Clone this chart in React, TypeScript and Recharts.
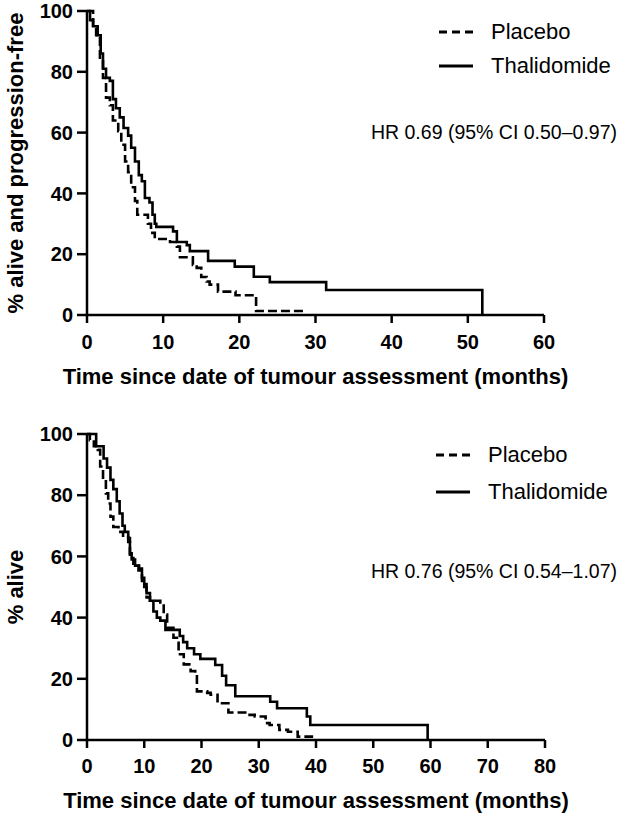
import { LineChart, Line, XAxis, YAxis, Legend } from 'recharts'

const FONT = '"Liberation Sans", Arial, Helvetica, sans-serif'

const pfsPlacebo = [
  [0, 100], [0.8, 94.5], [1.2, 92], [1.7, 84], [2.1, 78], [2.5, 71.5], [3.0, 69], [3.4, 64],
  [4.1, 60.5], [4.5, 56], [5.0, 50.5], [5.4, 47], [5.8, 42], [6.3, 37.5], [6.6, 33], [8.0, 30],
  [8.4, 27], [8.9, 25], [10.9, 24], [11.8, 22.5], [12.2, 19], [13.9, 16.5], [14.4, 15.5],
  [15.0, 12.5], [15.7, 11], [16.1, 10], [17.2, 7.7], [19.5, 6.5], [22.2, 1.3], [28.4, 1.3],
]
const pfsThalidomide = [
  [0, 100], [0.4, 97], [0.8, 95], [1.4, 92], [1.8, 86], [2.1, 81], [2.5, 78], [3.0, 77],
  [3.4, 71], [3.8, 68], [4.3, 65], [4.8, 61.5], [5.4, 59], [5.8, 55], [6.3, 50.5], [6.8, 46],
  [7.2, 44], [7.6, 38.5], [8.2, 37], [8.6, 33], [8.9, 30], [9.1, 29], [11.3, 27.5], [11.8, 24],
  [13.1, 23], [13.5, 21], [15.9, 17.8], [19.4, 15.9], [21.9, 12.6], [24.0, 10.8], [31.4, 8.2],
  [51.9, 0],
]
const osPlacebo = [
  [0, 100], [0.5, 98], [1.2, 96], [1.9, 94.8], [2.3, 89.4], [2.8, 85], [3.3, 80.6], [3.7, 77.3],
  [4.1, 73], [4.6, 69.6], [5.5, 68], [6.3, 66.3], [7.2, 64.7], [7.5, 60], [8.1, 57.6], [9.0, 55.4],
  [9.6, 52], [10.0, 50], [10.4, 46.6], [11.0, 45.5], [12.8, 44.4], [13.4, 41], [14.0, 36.7],
  [15.1, 33.4], [16.0, 28], [16.9, 24.7], [18.1, 22.5], [18.9, 20.8], [19.2, 15.9], [21.0, 15.4],
  [21.6, 14.8], [22.8, 12], [24.7, 9], [28.4, 8.2], [29.3, 7.7], [31.2, 5.5], [31.9, 4.9],
  [33.6, 3.3], [35.1, 2.7], [36.8, 1.1], [39.5, 1.1],
]
const osThalidomide = [
  [0, 100], [1.6, 96], [2.9, 92], [3.5, 89], [4.1, 85], [4.6, 82], [5.2, 78], [5.7, 74],
  [6.2, 70], [6.6, 68], [7.2, 66], [7.5, 61], [7.8, 59], [8.4, 57], [9.1, 56], [9.6, 53],
  [10.0, 51], [10.4, 48], [11.0, 45.5], [11.6, 42], [12.2, 40], [12.8, 39], [13.7, 36],
  [16.2, 34], [16.8, 32], [17.5, 30], [18.7, 28], [19.8, 26.5], [22.4, 24.5], [23.6, 21],
  [24.3, 17.9], [25.9, 14.3], [32.0, 12.5], [33.2, 10.4], [38.4, 7.7], [39.0, 4.9], [59.5, 0],
]

const pfsTicksX = [0, 10, 20, 30, 40, 50, 60]
const osTicksX = [0, 10, 20, 30, 40, 50, 60, 70, 80]
const yTicks = [0, 20, 40, 60, 80, 100]

const xTitle = 'Time since date of tumour assessment (months)'
const pfsYTitle = '% alive and progression-free'
const osYTitle = '% alive'
const pfsHR = 'HR 0.69 (95% CI 0.50–0.97)'
const osHR = 'HR 0.76 (95% CI 0.54–1.07)'

const toPoints = (rows: number[][]) => rows.map(([t, s]) => ({ t, s }))

function KmLegend({ payload, rowHeight }: any) {
  if (!payload) return null
  return (
    <div style={{ fontFamily: FONT, fontSize: 22, color: '#000' }}>
      {payload.map((p: any) => (
        <div key={p.value} style={{ display: 'flex', alignItems: 'center', height: rowHeight }}>
          <svg width={52} height={6} style={{ flex: 'none' }}>
            <line x1={0} y1={3} x2={34} y2={3} stroke="#000" strokeWidth={3}
              strokeDasharray={p.value === 'Placebo' ? '8 5' : undefined} />
          </svg>
          <span>{p.value}</span>
        </div>
      ))}
    </div>
  )
}

function YTitle({ viewBox, value }: any) {
  const cx = 15
  const cy = viewBox.y + viewBox.height / 2
  return (
    <text x={cx} y={cy} transform={`rotate(-90 ${cx} ${cy})`} textAnchor="middle"
      dominantBaseline="central" fill="#000" fontSize={22} fontWeight="bold" fontFamily={FONT}>
      {value}
    </text>
  )
}

const tickStyle = { fill: '#000', fontSize: 20, fontWeight: 'bold', fontFamily: FONT }
const axisStroke = { stroke: '#000', strokeWidth: 2.5 }

interface KmProps {
  width: number
  height: number
  top: number
  right: number
  axisHeight: number
  tickGap: number
  titleOffset: number
  xMax: number
  xTicks: number[]
  yTitle: string
  hr: string
  hrTop: number
  legendTop: number
  legendLeft: number
  rowHeight: number
  placebo: number[][]
  thalidomide: number[][]
}

function KmPlot(p: KmProps) {
  return (
    <div style={{ position: 'relative', width: p.width, height: p.height }}>
      <LineChart width={p.width} height={p.height}
        margin={{ top: p.top, right: p.right, bottom: 0, left: 0 }}>
        <XAxis dataKey="t" type="number" domain={[0, p.xMax]} ticks={p.xTicks} interval={0}
          height={p.axisHeight} tick={tickStyle} tickSize={8} tickMargin={p.tickGap}
          axisLine={axisStroke} tickLine={axisStroke}
          label={{ value: xTitle, position: 'insideBottom', offset: p.titleOffset, fill: '#000',
            fontSize: 22, fontWeight: 'bold', fontFamily: FONT }} />
        <YAxis type="number" domain={[0, 100]} ticks={yTicks} interval={0} width={87}
          tick={tickStyle} tickSize={10} tickMargin={4}
          axisLine={axisStroke} tickLine={axisStroke}
          label={{ value: p.yTitle, content: <YTitle value={p.yTitle} /> }} />
        <Legend layout="vertical" align="center" verticalAlign="middle"
          content={<KmLegend rowHeight={p.rowHeight} />}
          wrapperStyle={{ position: 'absolute', left: p.legendLeft, top: p.legendTop, width: 180 }} />
        <Line data={toPoints(p.placebo)} dataKey="s" name="Placebo" type="stepAfter"
          stroke="#000" strokeWidth={2.6} strokeDasharray="9 4" dot={false}
          activeDot={false} isAnimationActive={false} />
        <Line data={toPoints(p.thalidomide)} dataKey="s" name="Thalidomide" type="stepAfter"
          stroke="#000" strokeWidth={2.6} dot={false}
          activeDot={false} isAnimationActive={false} />
      </LineChart>
      <div style={{ position: 'absolute', right: 2, top: p.hrTop, fontFamily: FONT,
        fontSize: 19.5, color: '#000', whiteSpace: 'nowrap' }}>
        {p.hr}
      </div>
    </div>
  )
}

export default function App() {
  return (
    <div style={{ position: 'absolute', left: 0, top: 0, width: 619, height: 817, background: '#fff' }}>
      <KmPlot width={619} height={400} top={11} right={75} axisHeight={85} tickGap={12}
        titleOffset={16} xMax={60} xTicks={pfsTicksX} yTitle={pfsYTitle} hr={pfsHR}
        hrTop={121} legendTop={15} legendLeft={439} rowHeight={34}
        placebo={pfsPlacebo} thalidomide={pfsThalidomide} />
      <div style={{ height: 20 }} />
      <KmPlot width={619} height={397} top={14} right={74} axisHeight={77} tickGap={11}
        titleOffset={9} xMax={80} xTicks={osTicksX} yTitle={osYTitle} hr={osHR}
        hrTop={140} legendTop={16} legendLeft={436} rowHeight={37}
        placebo={osPlacebo} thalidomide={osThalidomide} />
    </div>
  )
}
